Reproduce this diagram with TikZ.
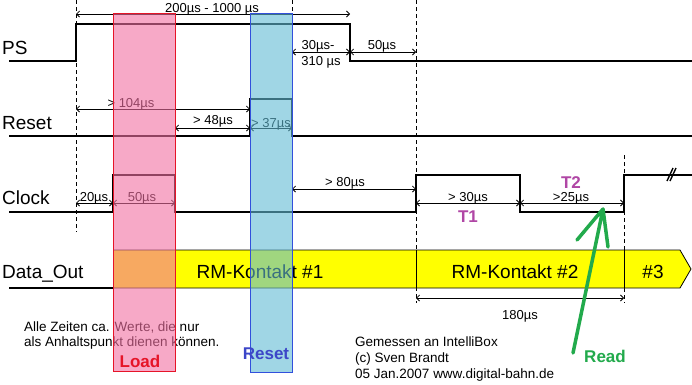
\documentclass[tikz,border=0pt]{standalone}
\usepackage{fontspec}
\setmainfont{Liberation Sans}
\usetikzlibrary{arrows.meta}
\definecolor{loadpink}{RGB}{243,113,163}
\definecolor{loadred}{RGB}{230,20,40}
\definecolor{resetblue}{RGB}{97,188,213}
\definecolor{resetedge}{RGB}{50,80,220}
\definecolor{resettext}{RGB}{60,70,200}
\definecolor{tpurple}{RGB}{176,70,165}
\definecolor{readgreen}{RGB}{34,170,76}
\definecolor{datayellow}{RGB}{255,255,0}
\begin{document}
\begin{tikzpicture}[x=1pt,y=-1pt,
  sig/.style={line width=2.6pt, line join=miter},
  vdash/.style={line width=0.8pt, dash pattern=on 4pt off 3pt},
  dim/.style={line width=0.8pt, {Straight Barb[length=3pt,width=6pt]}-{Straight Barb[length=3pt,width=6pt]}},
  lbl/.style={font=\fontsize{19}{22}\selectfont, anchor=base west, inner sep=0pt},
  mid/.style={font=\fontsize{19}{22}\selectfont, anchor=base, inner sep=0pt},
  small/.style={font=\fontsize{13}{15}\selectfont, anchor=base, inner sep=0pt},
  note/.style={font=\fontsize{13.5}{16}\selectfont, anchor=base west, inner sep=0pt, align=left},
  bold/.style={font=\fontsize{17}{20}\selectfont\bfseries, anchor=base, inner sep=0pt},
  overlay box/.style={fill opacity=0.6, draw opacity=1, line width=0.9pt}
]
\fill[white] (0,0) rectangle (692,384);
\useasboundingbox (0,0) rectangle (692,384);

% dashed guide lines
\draw[vdash] (76,0) -- (76,232);
\draw[vdash] (175,80) -- (175,228);
\draw[vdash] (292,0) -- (292,205);
\draw[vdash] (416,0) -- (416,303);
\draw[vdash] (624,155) -- (624,303);

% signal names
\node[lbl] (ps) at (2,54) {PS};
\node[lbl] (rs) at (2,129) {Reset};
\node[lbl] (ck) at (2,204) {Clock};
\node[lbl] (do) at (2,278) {Data\_Out};

% signals
\draw[sig] (9,61) -- (76,61) -- (76,24) -- (350,24) -- (350,61) -- (692,61);
\draw[sig] (9,136) -- (250,136) -- (250,99) -- (292,99) -- (292,136) -- (692,136);
\draw[sig] (9,212) -- (113,212) -- (113,175) -- (175,175) -- (175,212) -- (416,212)
  -- (416,175) -- (520,175) -- (520,212) -- (624,212) -- (624,175) -- (692,175);
\draw[line width=1.4pt] (667,181) -- (673,168) (670,181) -- (676,168);

% data out
\draw[sig] (9,288) -- (113,288);
\fill[datayellow] (113,250) -- (680,250) -- (691,269) -- (680,288) -- (113,288) -- cycle;
\draw[line width=0.8pt] (113,250) -- (680,250) -- (691,269) -- (680,288) -- (113,288);
\draw[line width=0.8pt] (416,250) -- (416,288) (624,250) -- (624,288);
\node[mid] (k1) at (260,278) {RM-Kontakt \#1};
\node[mid] (k2) at (515,278) {RM-Kontakt \#2};
\node[mid] (k3) at (653,278) {\#3};

% dimension arrows
\draw[dim] (76,14) -- (350,14);
\node[small] (d1) at (212,12) {200µs - 1000 µs};
\draw[dim] (292,52) -- (350,52);
\node[small] (d2a) at (318,49) {30µs-};
\node[small] (d2b) at (321,65) {310 µs};
\draw[dim] (350,52) -- (416,52);
\node[small] (d3) at (382,49) {50µs};
\draw[dim] (76,109) -- (250,109);
\node[small] (d4) at (131,107) {> 104µs};
\draw[dim] (175,128) -- (250,128);
\node[small] (d5) at (213,124) {> 48µs};
\draw[dim] (250,128) -- (292,128);
\node[small] (d6) at (271,127) {> 37µs};
\draw[dim] (76,203) -- (113,203);
\node[small] (d7) at (94,201) {20µs};
\draw[dim] (113,203) -- (175,203);
\node[small] (d8) at (142,201) {50µs};
\draw[dim] (292,189) -- (416,189);
\node[small] (d9) at (345,186) {> 80µs};
\draw[dim] (416,203) -- (520,203);
\node[small] (d10) at (468,201) {> 30µs};
\draw[dim] (520,203) -- (624,203);
\node[small] (d11) at (571,201) {>25µs};
\draw[dim] (416,298) -- (624,298);
\node[small] (d12) at (520,319) {180µs};

\node[bold, text=tpurple] (t1) at (468,222) {T1};
\node[bold, text=tpurple] (t2) at (571,188) {T2};

% notes
\node[note] (n1) at (24,331) {Alle Zeiten ca. Werte, die nur};
\node[note] (n2) at (24,346) {als Anhaltspunkt dienen können.};
\node[note] (g1) at (355,346) {Gemessen an IntelliBox};
\node[note] (g2) at (355,362) {(c) Sven Brandt};
\node[note] (g3) at (355,378) {05 Jan.2007 www.digital-bahn.de};

% overlay boxes
\draw[overlay box, fill=loadpink, draw=loadred] (113,13) rectangle (175,371);
\draw[overlay box, fill=resetblue, draw=resetedge] (250,13) rectangle (292,372);
\node[bold, text=loadred] (ld) at (140,367) {Load};
\node[bold, text=resettext] (rt) at (266,359) {Reset};

% read arrow
\coordinate (rtip) at (603,209);
\coordinate (rbase) at (573,353);
\draw[readgreen, line width=3.5pt, line cap=round, line join=round]
  (rbase) -- (rtip) (577,240) -- (rtip) -- (608,247);
\node[bold, text=readgreen] (rd) at (605,362) {Read};
\end{tikzpicture}
\end{document}
